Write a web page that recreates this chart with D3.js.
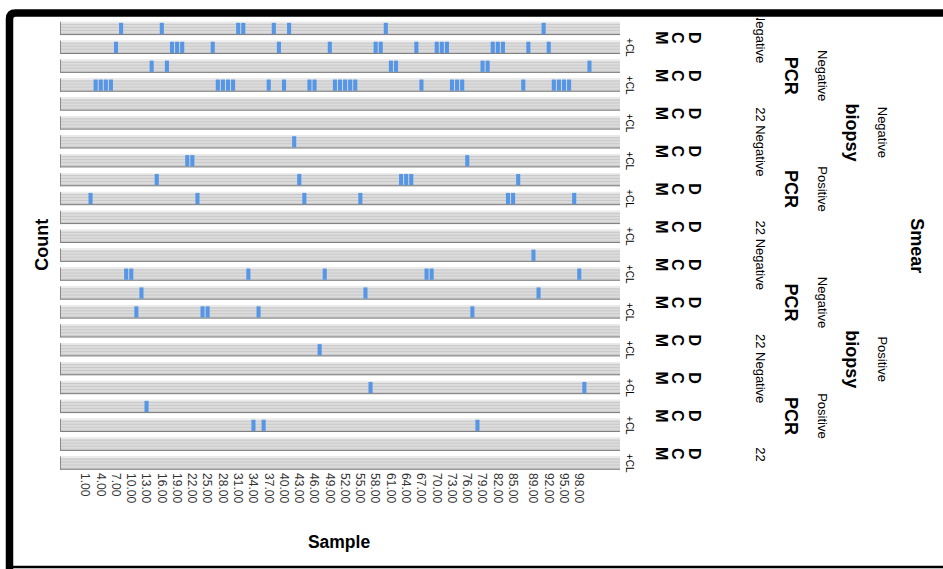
<!DOCTYPE html>
<html>
<head>
<meta charset="utf-8">
<script src="https://cdn.jsdelivr.net/npm/d3@7/dist/d3.min.js"></script>
<style>
  body { margin: 0; background: #fff; }
  svg { display: block; font-family: "Liberation Sans", Arial, sans-serif; }
</style>
</head>
<body>
<div id="chart"></div>
<script>
// sample categories on the axis, and the ones that carry a label
var samples = d3.range(1, 102);
var tickSamples = [1, 4, 7, 10, 13, 16, 19, 22, 25, 28, 31, 34, 37, 40, 43, 46, 49, 52,
                   55, 58, 61, 64, 67, 70, 73, 76, 79, 82, 85, 89, 92, 95, 98];

// samples with a count of 1, one list per strip (top to bottom)
var rowHits = [
    [8, 16, 31, 32, 38, 41, 60, 91],
    [7, 18, 19, 20, 26, 39, 49, 58, 59, 66, 70, 71, 72, 81, 82, 83, 88, 92],
    [14, 17, 61, 62, 79, 80, 100],
    [3, 4, 5, 6, 27, 28, 29, 30, 37, 40, 45, 46, 50, 51, 52, 53, 54, 67, 73, 74, 75, 87, 93, 94, 95, 96],
    [],
    [],
    [42],
    [21, 22, 76],
    [15, 43, 63, 64, 65, 86],
    [2, 23, 44, 55, 84, 85, 97],
    [],
    [],
    [89],
    [9, 10, 33, 48, 68, 69, 98],
    [12, 56, 90],
    [11, 24, 25, 35, 77],
    [],
    [47],
    [],
    [57, 99],
    [13],
    [34, 36, 78],
    [],
    []
];

// panel labels
var pairLabel = ["D", "C", "M"];
var subLabel = "+CL";
var smearValues = ["Negative", "Positive"];
var biopsyValues = ["Negative", "Positive", "Negative", "Positive"];
var pcrNote = "22 Negative";

var width = 943, height = 569;

var svg = d3.select("#chart").append("svg")
    .attr("width", width)
    .attr("height", height);

var x = d3.scaleBand()
    .domain(samples)
    .range([60, 620])
    .paddingOuter(4.5);

var y = d3.scaleBand()
    .domain(d3.range(rowHits.length))
    .range([19, 472.6])
    .paddingInner(0.3)
    .paddingOuter(0.15);

var bw = y.bandwidth();

// striped grey background of the strips
var defs = svg.append("defs");
var pat = defs.append("pattern")
    .attr("id", "stripes")
    .attr("patternUnits", "userSpaceOnUse")
    .attr("width", 4).attr("height", 3);
pat.append("rect").attr("width", 4).attr("height", 3).attr("fill", "#dcdcdc");
pat.append("rect").attr("y", 2).attr("width", 4).attr("height", 1).attr("fill", "#c8c8c8");

defs.append("clipPath").attr("id", "noteClip")
    .append("rect").attr("x", 700).attr("y", 18).attr("width", 100).attr("height", 445);

var rows = svg.selectAll("g.row")
    .data(rowHits)
    .join("g")
    .attr("class", "row")
    .attr("transform", (d, i) => "translate(0," + y(i) + ")");

rows.append("rect")
    .attr("x", x.range()[0])
    .attr("width", x.range()[1] - x.range()[0])
    .attr("height", bw)
    .attr("fill", "url(#stripes)");

rows.append("rect")
    .attr("x", x.range()[0])
    .attr("width", x.range()[1] - x.range()[0])
    .attr("height", 1.5)
    .attr("fill", "#ececec");

rows.append("line")
    .attr("x1", x.range()[0]).attr("x2", x.range()[1])
    .attr("y1", bw - 0.5).attr("y2", bw - 0.5)
    .attr("stroke", "#7c7c7c");

rows.append("line")
    .attr("x1", x.range()[0] + 0.5).attr("x2", x.range()[0] + 0.5)
    .attr("y1", 0).attr("y2", bw)
    .attr("stroke", "#8a8a8a");

rows.selectAll("rect.hit")
    .data(d => d)
    .join("rect")
    .attr("class", "hit")
    .attr("x", d => x(d) + 0.5)
    .attr("width", x.bandwidth() - 1)
    .attr("y", 1)
    .attr("height", bw - 2)
    .attr("fill", "#5696e6");

// x axis
var xAxis = svg.append("g")
    .attr("transform", "translate(0," + (y.range()[1] - 2.5) + ")")
    .call(d3.axisBottom(x).tickValues(tickSamples).tickFormat(d => d.toFixed(2)).tickSize(0));
xAxis.select(".domain").remove();
xAxis.selectAll(".tick text")
    .attr("transform", "rotate(90)")
    .attr("x", 3).attr("y", 0)
    .attr("dy", "0.35em")
    .attr("text-anchor", "start")
    .attr("fill", "#333")
    .style("font-size", "12px")
    .style("font-family", "'Liberation Sans', Arial, sans-serif");

function vtext(g, px, py, txt, size, weight, rot) {
    return g.append("text")
        .attr("transform", "translate(" + px + "," + py + ") rotate(" + (rot || 90) + ")")
        .attr("text-anchor", "middle")
        .attr("dominant-baseline", "central")
        .style("font-size", size + "px")
        .style("font-weight", weight || "normal")
        .attr("fill", "#000")
        .text(txt);
}

function groupCenter(n, g) {
    return (y(g * n) + y(g * n + n - 1) + bw) / 2;
}

var labels = svg.append("g");

// "+CL" beside every second strip, D/C/M between each pair
d3.range(rowHits.length / 2).forEach(function(p) {
    vtext(labels, 629, y(2 * p + 1) + bw / 2, subLabel, 10);
    var c = groupCenter(2, p);
    pairLabel.forEach(function(ch, k) {
        vtext(labels, 694 - k * 16.5, c, ch, 16, "bold");
    });
});

// PCR value column (clipped to the plot height)
var notes = svg.append("g").attr("clip-path", "url(#noteClip)");
d3.range(5).forEach(function(k) {
    vtext(notes, 760, y(0) + bw / 2 + k * 6 * y.step(), pcrNote, 13);
});

// biopsy values and PCR titles
biopsyValues.forEach(function(v, g) {
    var c = groupCenter(6, g);
    vtext(labels, 822, c, v, 13);
    vtext(labels, 791, c, "PCR", 18, "bold");
});

// smear values and biopsy titles
smearValues.forEach(function(v, g) {
    var c = groupCenter(12, g);
    vtext(labels, 882, c, v, 13);
    vtext(labels, 852, c, "biopsy", 18, "bold");
});

vtext(labels, 917, groupCenter(24, 0), "Smear", 18, "bold");

// axis titles
vtext(labels, 41.5, groupCenter(24, 0) - 1, "Count", 18, "bold", -90);
labels.append("text")
    .attr("x", 339).attr("y", 542)
    .attr("text-anchor", "middle")
    .attr("dominant-baseline", "central")
    .style("font-size", "17.5px")
    .style("font-weight", "bold")
    .text("Sample");

// black frame
svg.append("path")
    .attr("d", "M9.5," + height + " V19 Q9.5,13 15.5,13 H" + width)
    .attr("fill", "none")
    .attr("stroke", "#000")
    .attr("stroke-width", 7.5);
svg.append("line")
    .attr("x1", 9.5).attr("x2", width)
    .attr("y1", 567).attr("y2", 567)
    .attr("stroke", "#000")
    .attr("stroke-width", 2.5);
</script>
</body>
</html>
